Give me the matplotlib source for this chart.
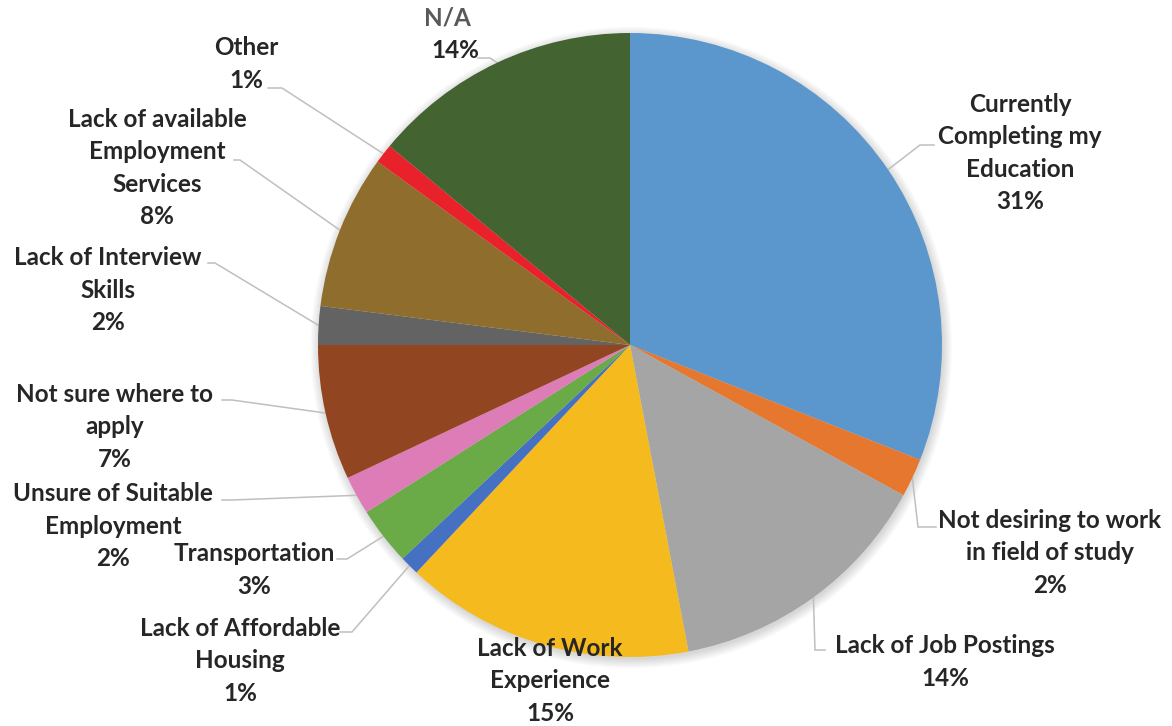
import numpy as np
import matplotlib.pyplot as plt

labels = ['Currently\nCompleting my\nEducation', 'Not desiring to work\nin field of study',
          'Lack of Job Postings', 'Lack of Work\nExperience', 'Lack of Affordable\nHousing',
          'Transportation', 'Unsure of Suitable\nEmployment', 'Not sure where to\napply',
          'Lack of Interview\nSkills', 'Lack of available\nEmployment\nServices', 'Other', 'N/A']
shares = [31, 2, 14, 15, 1, 3, 2, 7, 2, 8, 1, 14]
colors = ['#5B96CC', '#E5772F', '#A5A5A5', '#F5BA1E', '#4670C1', '#6AAA47',
          '#DE7CB8', '#914520', '#636363', '#8F6E2D', '#E8212A', '#436330']

W, H = 1172, 726
CX, CY, R = 630, 345, 312
PITCH = 32.5  # px between label lines

# label centre (px), elbow of the leader (px) or None
label_pos = [
    ((1020, 153), (920, 145)),
    ((1050, 553), (918, 527)),
    ((945, 662), (815, 650)),
    ((550, 681), None),
    ((240, 661), (352, 632)),
    ((254, 570), (347, 559)),
    ((113, 526), (232, 500)),
    ((115, 427), (232, 400)),
    ((108, 290), (215, 263)),
    ((157, 168), (240, 160)),
    ((246, 64), (282, 88)),
    ((451, 34), (490, 58)),
]
text_ends = [934, 936, 825, None, 340, 337, 222, 222, 208, 234, 268, 478]


def to_data(px, py):
    return (px - CX) / R, (CY - py) / R


fig = plt.figure(figsize=(W / 100, H / 100), dpi=100)
ax = fig.add_axes([0, 0, 1, 1])

# soft shadow under the pie
for k in range(8):
    ax.add_patch(plt.Circle((0.004, -0.008), 1 + 0.004 * k, color='#000000',
                            alpha=0.018, lw=0, zorder=0))

wedges, _ = ax.pie(shares, colors=colors, startangle=90, counterclock=False,
                   radius=1, wedgeprops=dict(linewidth=0))
for w in wedges:
    w.set_zorder(2)

ax.set_xlim(-CX / R, (W - CX) / R)
ax.set_ylim(-(H - CY) / R, CY / R)
ax.set_aspect('auto')
ax.axis('off')

font = dict(family=['Lato', 'DejaVu Sans'], fontsize=17.5, fontweight='bold')

for i, (name, val) in enumerate(zip(labels, shares)):
    (lx, ly), elbow = label_pos[i]
    lines = name.split('\n') + [f'{val}%']
    n = len(lines)
    for j, line in enumerate(lines):
        py = ly + (j - (n - 1) / 2) * PITCH
        px = lx
        col = '#262626'
        if name == 'N/A':
            px = lx - 4 if j == 0 else lx + 4
            col = '#595959' if j == 0 else '#262626'
        tx, ty = to_data(px, py)
        ax.text(tx, ty, line, ha='center', va='center', color=col, **font)

    if elbow is None:
        continue
    w = wedges[i]
    mid = np.deg2rad((w.theta1 + w.theta2) / 2)
    ax_, ay_ = np.cos(mid), np.sin(mid)
    ex, ey = to_data(*elbow)
    sx, _ = to_data(text_ends[i], elbow[1])
    ax.plot([sx, ex, ax_], [ey, ey, ay_], color='#BFBFBF', lw=1.1,
            solid_joinstyle='miter', zorder=1)

fig.savefig('out.png', dpi=100, facecolor='white')
